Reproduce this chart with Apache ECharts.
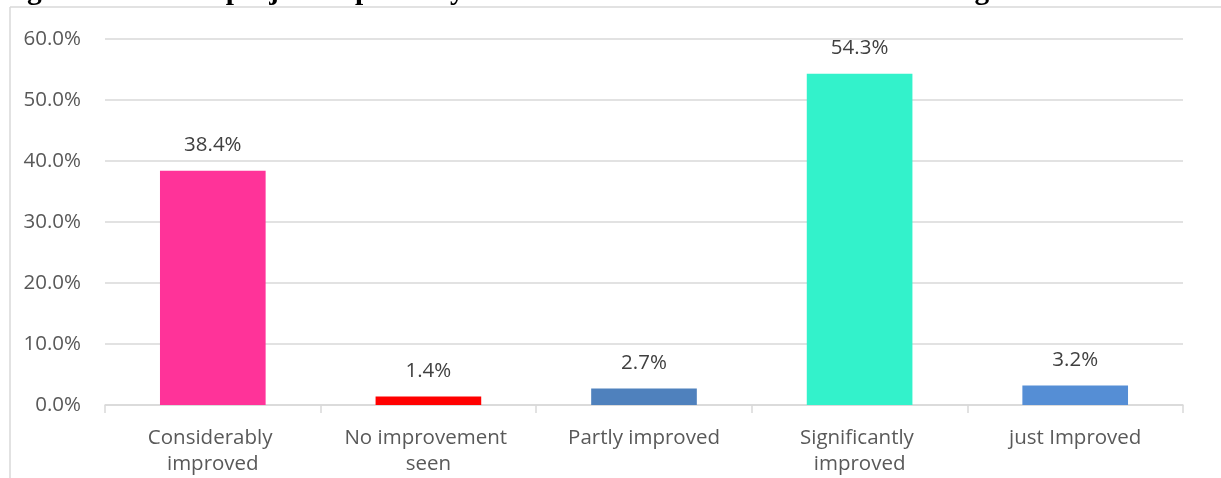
<!DOCTYPE html>
<html>
<head>
<meta charset="utf-8">
<script src="https://cdn.jsdelivr.net/npm/echarts@6/dist/echarts.min.js"></script>
<style>
  html, body { margin: 0; padding: 0; background: #fff; }
  #chart { width: 1221px; height: 478px; }
</style>
</head>
<body>
<div id="chart"></div>
<script>
// Survey responses: share of respondents per answer (percent)
const categories = ['Considerably improved', 'No improvement seen', 'Partly improved', 'Significantly improved', 'just Improved'];
const shares = [38.4, 1.4, 2.7, 54.3, 3.2];
const barColors = ['#FF3399', '#FF0000', '#4F81BD', '#33F2CB', '#558ED5'];
const yTicks = { min: 0, max: 60, step: 10 };
const titleText = 'Figure 7: Has the project improved your awareness on fundamental human rights?';

const textColor = '#595959';
const uiFont = '"Open Sans", "DejaVu Sans", sans-serif';

const chart = echarts.init(document.getElementById('chart'), null, { renderer: 'canvas' });

chart.setOption({
  backgroundColor: '#ffffff',
  animation: false,
  graphic: [
    // chart frame (top and left edges)
    { type: 'line', shape: { x1: 10, y1: 7, x2: 1221, y2: 7 }, style: { stroke: '#d9d9d9', lineWidth: 1.5 }, z: 1 },
    { type: 'line', shape: { x1: 10, y1: 7, x2: 10, y2: 478 }, style: { stroke: '#d9d9d9', lineWidth: 1.5 }, z: 1 },
    // caption above the frame, mostly cropped by the top edge
    {
      type: 'text', z: 2,
      x: 1, y: -23.5,
      style: {
        text: titleText,
        font: 'bold 29.4px "Liberation Serif", "Times New Roman", serif',
        fill: '#000000',
        verticalAlign: 'top'
      }
    }
  ],
  grid: { left: 105, right: 38, top: 39, bottom: 73, containLabel: false },
  xAxis: {
    type: 'category',
    data: categories,
    axisLine: { show: true, lineStyle: { color: '#d9d9d9', width: 1.5 } },
    axisTick: { show: true, length: 8, alignWithLabel: false, lineStyle: { color: '#d9d9d9', width: 1.5 } },
    axisLabel: {
      interval: 0,
      margin: 20,
      color: textColor,
      fontFamily: uiFont,
      fontSize: 20.5,
      lineHeight: 26,
      width: 190,
      overflow: 'break',
      align: 'center'
    }
  },
  yAxis: {
    type: 'value',
    min: yTicks.min,
    max: yTicks.max,
    interval: yTicks.step,
    axisLine: { show: false },
    axisTick: { show: false },
    splitLine: { show: true, lineStyle: { color: '#d9d9d9', width: 1.5 } },
    axisLabel: {
      margin: 24,
      color: textColor,
      fontFamily: uiFont,
      fontSize: 20.5,
      formatter: v => v.toFixed(1) + '%'
    }
  },
  series: [{
    type: 'bar',
    barWidth: '49%',
    data: shares.map((v, i) => ({ value: v, itemStyle: { color: barColors[i] } })),
    label: {
      show: true,
      position: 'top',
      distance: 15,
      color: '#404040',
      fontFamily: uiFont,
      fontSize: 20.5,
      formatter: p => p.value.toFixed(1) + '%'
    }
  }]
});
</script>
</body>
</html>
